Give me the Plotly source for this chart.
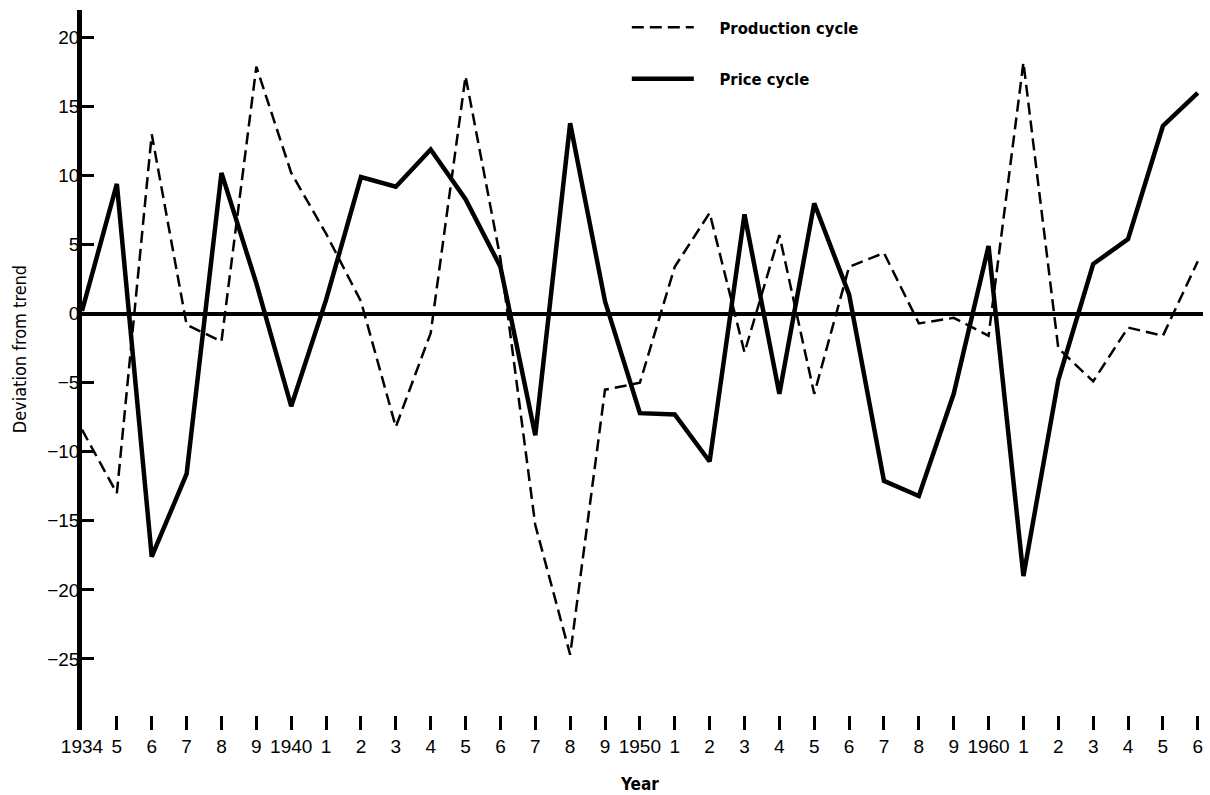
import plotly.graph_objects as go

years = list(range(1934, 1967))
price_cycle = [0.2, 9.4, -17.6, -11.6, 10.2, 2.2, -6.7, 1.0, 9.9, 9.2, 11.9, 8.3, 3.4,
               -8.8, 13.8, 0.9, -7.2, -7.3, -10.7, 7.2, -5.8, 8.0, 1.4, -12.1, -13.2,
               -5.8, 4.9, -19.0, -4.8, 3.6, 5.4, 13.6, 16.0]
production_cycle = [-8.4, -13.0, 13.0, -0.8, -2.0, 17.9, 10.2, 5.8, 0.9, -8.2, -1.4, 17.2,
                    4.0, -15.3, -24.7, -5.5, -5.0, 3.4, 7.3, -2.8, 5.7, -5.8, 3.4, 4.4,
                    -0.7, -0.3, -1.6, 18.2, -2.5, -4.9, -1.0, -1.6, 3.8]
x_tick_text = ["1934", "5", "6", "7", "8", "9", "1940", "1", "2", "3", "4", "5", "6", "7",
               "8", "9", "1950", "1", "2", "3", "4", "5", "6", "7", "8", "9", "1960", "1",
               "2", "3", "4", "5", "6"]
y_tick_vals = [-25, -20, -15, -10, -5, 0, 5, 10, 15, 20]
y_tick_text = ["\u221225", "\u221220", "\u221215", "\u221210", "\u22125", "0", "5", "10", "15", "20"]

NARROW = "DejaVu Sans Condensed, Liberation Sans Narrow, Arial Narrow, sans-serif"
REG = "Liberation Sans, Arial, sans-serif"
PAD = "\u00a0\u00a0\u00a0\u00a0"

fig = go.Figure()
fig.add_trace(go.Scatter(
    x=years, y=production_cycle, mode="lines", name=PAD + "Production cycle",
    legendgroup="a",
    line=dict(color="black", width=2.5, dash="12px,6px"),
))
fig.add_trace(go.Scatter(
    x=years, y=price_cycle, mode="lines", name=PAD + "Price cycle",
    legendgroup="b",
    line=dict(color="black", width=4.5),
))

fig.update_layout(
    width=1210, height=795, autosize=False,
    paper_bgcolor="white", plot_bgcolor="white",
    margin=dict(l=82, r=7, t=10, b=65),
    showlegend=True,
    legend=dict(
        x=0.486, y=1.0, xanchor="left", yanchor="top",
        bgcolor="rgba(0,0,0,0)", borderwidth=0,
        font=dict(family=NARROW, size=16.5, color="black", weight="bold"),
        tracegroupgap=27, itemwidth=62,
    ),
    font=dict(family=REG, color="black"),
)
fig.update_xaxes(
    range=[1934, 1966.15],
    tickmode="array", tickvals=years, ticktext=x_tick_text,
    ticks="inside", ticklen=14, tickwidth=3, tickcolor="black",
    showline=False, showgrid=False, zeroline=False,
    tickfont=dict(family=REG, size=19, color="black"),
    ticklabelstandoff=3,
)
fig.update_yaxes(
    range=[-30.15, 22.0],
    tickmode="array", tickvals=y_tick_vals, ticktext=y_tick_text,
    ticks="inside", ticklen=12, tickwidth=2.5, tickcolor="black",
    showline=True, linewidth=4.5, linecolor="black",
    showgrid=False, zeroline=True, zerolinewidth=4, zerolinecolor="black",
    tickfont=dict(family=REG, size=19, color="black"),
    ticklabelstandoff=-6,
)
fig.add_annotation(
    text="Deviation from trend", xref="paper", yref="paper",
    x=-0.056, y=0.529, textangle=-90, showarrow=False,
    xanchor="center", yanchor="middle",
    font=dict(family=NARROW, size=18, color="black"),
)
fig.add_annotation(
    text="<b>Year</b>", xref="paper", yref="paper",
    x=0.497, y=-0.075, showarrow=False,
    xanchor="center", yanchor="middle",
    font=dict(family=NARROW, size=17, color="black"),
)

fig.write_html(
    "out.html",
    config={"displayModeBar": False},
    post_script="document.body.style.margin='0';document.body.style.overflow='hidden';",
)
